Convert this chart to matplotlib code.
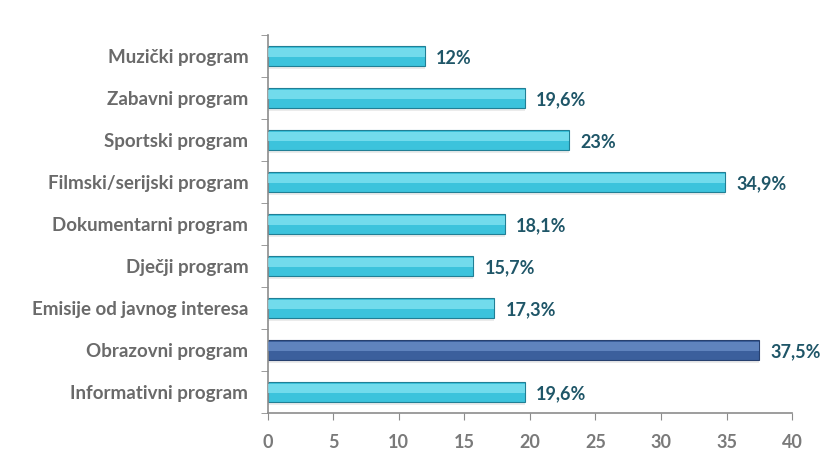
import matplotlib.pyplot as plt
import numpy as np

plt.rcParams['font.family'] = ['Lato', 'DejaVu Sans']

categories = ["Informativni program", "Obrazovni program", "Emisije od javnog interesa",
              "Dječji program", "Dokumentarni program", "Filmski/serijski program",
              "Sportski program", "Zabavni program", "Muzički program"]
values = [19.6, 37.5, 17.3, 15.7, 18.1, 34.9, 23, 19.6, 12]
labels = ["19,6%", "37,5%", "17,3%", "15,7%", "18,1%", "34,9%", "23%", "19,6%", "12%"]
highlight = 1  # Obrazovni program is drawn dark blue

fig = plt.figure(figsize=(8.26, 4.66), dpi=100)
ax = fig.add_axes([0.324, 0.114, 0.635, 0.811])

y = np.arange(len(categories))
colors = ['#3b5f9c' if i == highlight else '#3cc3dc' for i in y]
edges = ['#27406e' if i == highlight else '#217f95' for i in y]
lights = ['#6f93cc' if i == highlight else '#8ae6f4' for i in y]

# soft shadow under the bars
ax.barh(y - 0.07, values, height=0.48, color='#c8c8c8', alpha=0.35, zorder=1)
ax.barh(y, values, height=0.46, color=colors, edgecolor=edges, linewidth=0.8, zorder=2)
# lighter upper strip for a bit of depth
ax.barh(y + 0.08, values, height=0.2, color=lights, alpha=0.7, linewidth=0, zorder=3)

for yi, v, lab in zip(y, values, labels):
    ax.text(v + 0.85, yi - 0.05, lab, va='center', ha='left', fontsize=13,
            fontweight='bold', color='#1f5668')

ax.set_xlim(0, 40)
ax.set_ylim(-0.5, len(categories) - 0.5)
ax.set_xticks(np.arange(0, 41, 5))
ax.set_yticks(y)
ax.set_yticklabels(categories)
ax.set_yticks(np.arange(-0.5, len(categories), 1), minor=True)

ax.tick_params(axis='y', which='major', length=0, pad=14, labelsize=13.5, labelcolor='#6a6a6a')
ax.tick_params(axis='y', which='minor', length=5, color='#8c8c8c', direction='out')
ax.tick_params(axis='x', length=5, color='#8c8c8c', pad=10, labelsize=13, labelcolor='#7a7a7a')
for lab in ax.get_yticklabels() + ax.get_xticklabels():
    lab.set_fontweight('bold')

for s in ['top', 'right']:
    ax.spines[s].set_visible(False)
for s in ['left', 'bottom']:
    ax.spines[s].set_color('#8c8c8c')
    ax.spines[s].set_linewidth(1.2)

fig.savefig('out.png', dpi=100)
